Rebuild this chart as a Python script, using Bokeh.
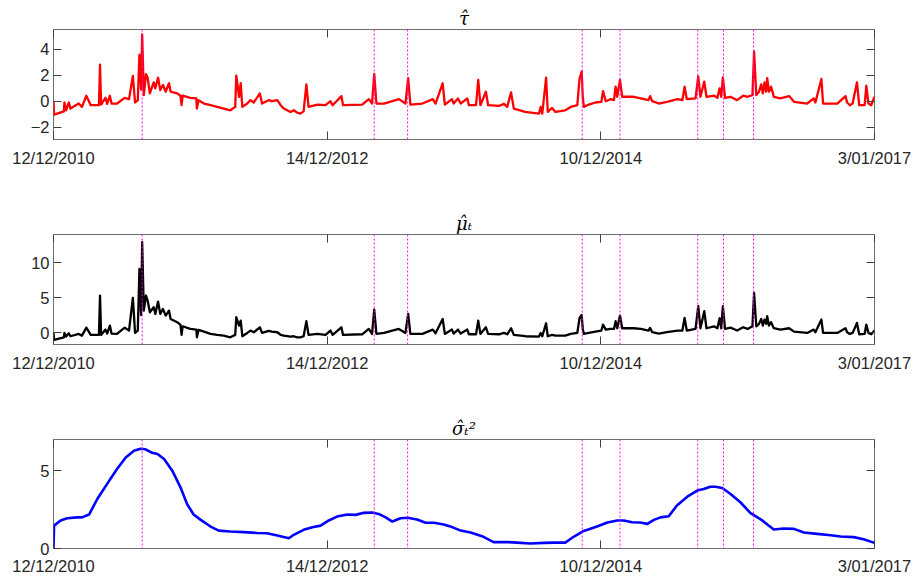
from bokeh.plotting import figure
from bokeh.models import Range1d, FixedTicker, LinearAxis, Span
from bokeh.layouts import column
from bokeh.embed import file_html
from bokeh.resources import INLINE

# ---------------- data ----------------
X_TICKS = [0, 500, 1000, 1500]
X_LABELS = ["12/12/2010", "14/12/2012", "10/12/2014", "3/01/2017"]

# observation index of the break dates (magenta dotted lines)
BREAKS = [162, 586, 647, 966, 1035, 1177, 1224, 1279]

T_OBS = [0, 1, 19, 20, 23, 28, 31, 46, 52, 60,
         68, 83, 85, 87, 95, 98, 103, 106, 116, 130,
         138, 145, 149, 154, 157, 160, 162, 165, 169, 172,
         176, 183, 186, 191, 195, 200, 205, 211, 214, 226,
         232, 234, 236, 250, 261, 262, 265, 275, 287, 299,
         311, 323, 332, 334, 339, 342, 345, 354, 360, 366,
         377, 381, 393, 399, 409, 415, 421, 433, 439, 445,
         451, 457, 462, 466, 482, 497, 506, 510, 526, 529,
         564, 576, 582, 586, 590, 604, 619, 631, 643, 648,
         652, 674, 693, 698, 711, 715, 728, 731, 739, 744,
         756, 759, 772, 776, 780, 790, 794, 814, 823, 829,
         836, 841, 862, 887, 890, 893, 900, 903, 911, 917,
         935, 945, 957, 961, 965, 967, 969, 978, 990, 1001,
         1004, 1009, 1018, 1024, 1027, 1030, 1035, 1039, 1060, 1073,
         1087, 1090, 1094, 1106, 1121, 1140, 1149, 1153, 1157, 1173,
         1178, 1182, 1189, 1193, 1207, 1213, 1217, 1220, 1223, 1227,
         1237, 1249, 1260, 1268, 1277, 1280, 1284, 1289, 1293, 1296,
         1299, 1302, 1304, 1307, 1311, 1316, 1328, 1344, 1353, 1377,
         1389, 1392, 1403, 1406, 1432, 1447, 1450, 1455, 1460, 1468,
         1472, 1482, 1485, 1489, 1494, 1500]

TAU = [0.00, -1.04, -0.78, -0.10, -0.70, -0.10, -0.57, -0.18, -0.44, 0.42,
       -0.31, -0.31, 2.81, -0.26, 0.26, -0.21, 0.42, -0.18, -0.18, 0.26,
       0.16, 1.95, -0.10, 0.08, 3.58, 0.90, 5.14, 0.47, 2.08, 1.82,
       0.60, 1.45, 0.99, 1.82, 0.86, 1.25, 0.73, 1.38, 0.73, 0.60,
       0.42, -0.31, 0.42, 0.26, 0.21, -0.57, 0.08, -0.18, -0.31, -0.44,
       -0.57, -0.70, -0.44, 1.97, 0.34, 1.38, -0.44, -0.18, 0.08, -0.10,
       0.60, -0.18, 0.08, 0.00, 0.08, -0.31, -0.57, -0.83, -0.70, -0.88,
       -0.96, -0.78, 1.30, -0.44, -0.26, -0.31, 0.00, -0.31, 0.39, -0.31,
       -0.26, 0.16, -0.18, 2.10, -0.18, -0.18, 0.00, 0.16, -0.18, 1.77,
       -0.26, -0.18, 0.16, -0.18, 1.38, -0.26, 0.16, -0.18, 0.21, -0.18,
       0.21, -0.31, -0.31, 1.64, -0.31, 0.73, -0.31, -0.36, -0.21, -0.44,
       0.68, -0.57, -0.83, -0.96, -0.44, -0.96, 1.82, -0.83, -0.52, -0.83,
       -0.70, -0.44, -0.31, 1.71, 2.29, 0.34, -0.44, -0.26, -0.10, -0.05,
       0.78, 0.00, 0.16, 0.08, 1.12, 0.34, 1.64, 0.34, 0.34, 0.21,
       0.08, 0.39, 0.00, -0.18, -0.05, 0.16, 0.08, 1.12, 0.16, 0.21,
       1.90, 0.34, 1.51, 0.34, 0.42, 0.26, 0.99, 0.34, 1.84, 0.26,
       0.34, 0.08, 0.42, 0.34, 0.47, 3.84, 0.47, 0.73, 1.30, 0.60,
       1.45, 0.73, 1.77, 0.73, 1.12, 0.34, 0.21, 0.39, -0.05, -0.18,
       0.21, -0.10, 1.71, -0.18, -0.18, 0.39, -0.10, -0.31, -0.18, 1.45,
       -0.31, -0.31, 1.19, -0.18, -0.31, 0.34]

MU = [0.05, -1.05, -0.67, -0.05, -0.57, -0.10, -0.52, -0.19, -0.43, 0.71,
      -0.33, -0.33, 5.29, -0.33, 0.43, -0.14, 1.00, -0.14, -0.19, 0.71,
      0.29, 4.95, -0.05, 0.29, 9.10, 2.50, 12.90, 3.14, 5.29, 4.57,
      2.90, 3.62, 2.67, 4.43, 2.67, 3.38, 2.43, 3.14, 1.95, 1.48,
      1.10, -0.33, 0.90, 0.52, 0.43, -0.67, 0.38, 0.14, -0.19, -0.33,
      -0.43, -0.67, -0.33, 2.19, 1.00, 1.71, -0.52, -0.05, 0.29, 0.05,
      0.76, -0.05, 0.24, 0.14, 0.05, -0.33, -0.43, -0.57, -0.52, -0.67,
      -0.67, -0.52, 1.62, -0.33, -0.19, -0.33, 0.29, -0.33, 0.76, -0.33,
      -0.24, 0.52, -0.19, 3.29, -0.19, -0.05, 0.29, 0.52, -0.05, 2.67,
      -0.19, -0.19, 0.43, -0.10, 1.95, -0.19, 0.43, -0.14, 0.43, -0.14,
      0.43, -0.24, -0.24, 1.71, -0.19, 0.76, -0.19, -0.24, -0.05, -0.24,
      0.62, -0.33, -0.52, -0.57, -0.05, -0.52, 1.33, -0.52, -0.33, -0.43,
      -0.43, -0.19, -0.05, 2.05, 2.52, 0.52, -0.19, -0.05, 0.14, 0.29,
      1.14, 0.43, 0.52, 0.52, 1.62, 0.62, 2.43, 0.62, 0.62, 0.52,
      0.29, 0.67, 0.05, -0.14, 0.05, 0.29, 0.29, 2.10, 0.29, 0.52,
      3.76, 0.62, 3.05, 0.62, 0.90, 0.62, 2.05, 0.62, 3.76, 0.52,
      0.71, 0.29, 0.76, 0.52, 0.90, 5.67, 0.90, 1.24, 1.95, 1.00,
      1.86, 1.24, 2.33, 1.00, 1.48, 0.62, 0.43, 0.62, 0.14, -0.05,
      0.43, 0.05, 1.86, -0.05, -0.05, 0.62, 0.05, -0.19, -0.05, 1.38,
      -0.24, -0.19, 1.14, -0.05, -0.24, 0.29]

S_T = [0, 1, 13, 25, 43, 52, 65, 80, 98, 116,
       132, 147, 159, 168, 180, 190, 202, 217, 232, 244,
       256, 269, 287, 302, 323, 348, 372, 390, 409, 430,
       439, 457, 473, 488, 503, 518, 537, 552, 567, 582,
       594, 607, 619, 634, 647, 664, 680, 695, 713, 725,
       744, 762, 783, 804, 829, 847, 871, 896, 914, 935,
       951, 969, 993, 1012, 1030, 1042, 1057, 1072, 1085, 1097,
       1109, 1124, 1139, 1158, 1176, 1188, 1200, 1209, 1222, 1237,
       1255, 1273, 1295, 1316, 1334, 1353, 1371, 1395, 1420, 1438,
       1462, 1480, 1500]

SIGMA2 = [0.00, 1.47, 1.80, 1.94, 2.00, 2.00, 2.18, 3.18, 4.15, 5.10,
          5.85, 6.28, 6.41, 6.37, 6.15, 6.07, 5.75, 5.00, 3.93, 2.86,
          2.18, 1.84, 1.41, 1.15, 1.09, 1.05, 1.00, 0.98, 0.83, 0.66,
          0.88, 1.20, 1.37, 1.47, 1.80, 2.05, 2.18, 2.16, 2.29, 2.31,
          2.22, 2.00, 1.73, 1.94, 1.97, 1.86, 1.65, 1.65, 1.54, 1.42,
          1.15, 1.03, 0.79, 0.41, 0.41, 0.38, 0.32, 0.36, 0.38, 0.38,
          0.77, 1.13, 1.41, 1.67, 1.80, 1.80, 1.69, 1.67, 1.58, 1.84,
          2.00, 2.07, 2.76, 3.33, 3.72, 3.82, 3.97, 3.97, 3.89, 3.50,
          2.97, 2.29, 1.80, 1.22, 1.28, 1.26, 1.03, 0.94, 0.85, 0.77,
          0.73, 0.60, 0.36]

assert len(T_OBS) == len(TAU) == len(MU)
assert len(S_T) == len(SIGMA2)

TITLES = ["\u03c4\u0302", "\u03bc\u0302\u209c", "\u03c3\u0302\u209c\u00b2"]

FONT = "Liberation Sans"
TXT = "#262626"


def make_fig(title, height, yr, yticks, top, bottom, standoff):
    p = figure(width=914, height=height, x_range=Range1d(0, 1500),
               y_range=Range1d(*yr), output_backend="svg",
               toolbar_location=None, title=title,
               min_border_left=53, min_border_right=40,
               min_border_top=top, min_border_bottom=bottom)
    p.background_fill_color = "white"
    p.border_fill_color = "white"
    p.outline_line_color = "#6e6e6e"
    p.outline_line_width = 1
    p.xgrid.visible = False
    p.ygrid.visible = False

    p.title.align = "center"
    p.title.text_font = "DejaVu Serif"
    p.title.text_font_style = "italic"
    p.title.text_font_size = "18px"
    p.title.text_color = "black"
    p.title.standoff = 1

    for ax, ticks in ((p.xaxis[0], X_TICKS), (p.yaxis[0], yticks)):
        ax.ticker = FixedTicker(ticks=ticks)
        ax.axis_line_color = None
        ax.major_tick_in = 8
        ax.major_tick_out = 0
        ax.major_tick_line_color = "#404040"
        ax.minor_tick_line_color = None
        ax.major_label_text_font = FONT
        ax.major_label_text_font_size = "16.5px"
        ax.major_label_text_color = TXT
    p.xaxis[0].major_label_overrides = {t: l for t, l in zip(X_TICKS, X_LABELS)}
    p.xaxis[0].major_label_standoff = standoff
    p.yaxis[0].major_label_standoff = 4

    # mirrored tick marks (box style)
    for loc, ticks in (("right", yticks), ("above", X_TICKS)):
        ax = LinearAxis(ticker=FixedTicker(ticks=ticks))
        ax.axis_line_color = None
        ax.major_tick_in = 8
        ax.major_tick_out = 0
        ax.major_tick_line_color = "#404040"
        ax.minor_tick_line_color = None
        ax.major_label_text_font_size = "0px"
        ax.major_label_text_color = None
        ax.major_label_standoff = 0
        p.add_layout(ax, loc)

    for b in BREAKS:
        p.add_layout(Span(location=b, dimension="height", line_color="#ff00ff",
                          line_width=1, line_dash="2 2"))
    return p


p1 = make_fig(TITLES[0], 205, (-2.95, 5.52), [-2, 0, 2, 4], 29, 66, 9)
p1.line(T_OBS, TAU, line_color="#ff0000", line_width=2.3, line_join="round")

p2 = make_fig(TITLES[1], 205, (-1.7, 14), [0, 5, 10], 29, 66, 9)
p2.line(T_OBS, MU, line_color="#000000", line_width=2.3, line_join="round")

p3 = make_fig(TITLES[2], 169, (0, 7), [0, 5], 29, 31, 8)
p3.line(S_T, SIGMA2, line_color="#0000ff", line_width=2.6, line_join="round")

layout = column(p1, p2, p3, spacing=0)

open("out.html", "w").write(file_html(layout, INLINE))
